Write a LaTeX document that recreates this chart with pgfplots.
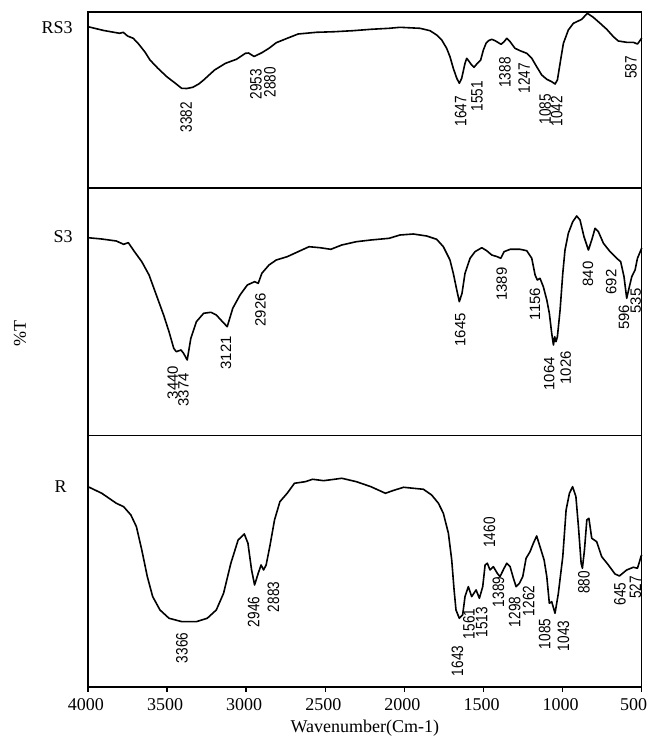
\documentclass[border=0pt]{standalone}
\usepackage{pgfplots}
\pgfplotsset{compat=1.18}
\usepackage{fontspec}
\setmainfont{Liberation Serif}
\newfontfamily\labs{Liberation Sans}
\newfontfamily\labn[FakeStretch=0.82]{Liberation Sans}
\newcommand{\pkS}{\labs\fontsize{11.2}{12}\selectfont}
\newcommand{\pkN}{\labn\fontsize{12.4}{13}\selectfont}
\newcommand{\bigtxt}{\fontsize{13.5}{15}\selectfont}

\pgfplotsset{
  panel/.style={
    scale only axis, width=415.3pt,
    xmin=500, xmax=4000, x dir=reverse, y dir=reverse,
    axis line style={line width=1.1pt},
    ytick=\empty, clip=false,
  },
  spec/.style={black, line width=1.2pt, no marks, line join=round},
}

\begin{document}
\begin{tikzpicture}
\path[use as bounding box] (0pt,0pt) rectangle (487.5pt,-552pt);

% ---------- RS3 ----------
\begin{axis}[panel, at={(66pt,-9pt)}, anchor=north west, height=132pt,
  ymin=12, ymax=188, xtick=\empty]
\addplot[spec] coordinates {
(4000,26.7)(3900,30.5)(3800,33.3)(3777,32.3)(3750,36)(3714,38.3)(3680,44)(3640,52)(3608,60)(3560,68)
(3502,76.7)(3450,83)(3408,88.3)(3376,88.5)(3338,87.3)(3300,84)(3269,80)(3200,70)(3131,63.3)(3062,59.3)
(3005,53.3)(2985,53)(2950,56.5)(2901,52.7)(2856,48.3)(2810,42.7)(2741,38.3)(2672,34)(2557,32.3)(2442,31.7)
(2327,30.7)(2212,29.3)(2097,28.3)(2028,27.3)(1901,28.3)(1838,30.7)(1796,35)(1764,40)(1733,48.3)(1712,56.7)
(1691,68.3)(1669,78.3)(1653,83.3)(1638,78.3)(1617,63.3)(1606,58.3)(1590,61.7)(1575,65)(1560,67.3)(1539,63.3)
(1518,60)(1501,50)(1484,43.3)(1469,40.7)(1448,39.3)(1427,40.7)(1389,44.3)(1370,41.7)(1353,38.3)(1332,41.7)
(1301,48.3)(1269,50.7)(1227,53.3)(1195,58.3)(1164,66.7)(1132,75)(1100,79.3)(1069,81.7)(1048,84)(1033,80)
(1016,63.3)(995,43.3)(964,30)(932,23.3)(879,19.3)(844,13.3)(806,17.3)(763,23.3)(721,29.3)(679,36.7)
(648,41)(595,42.3)(553,42.3)(527,44)(505,39.3)(500,38)
};
\begin{scope}[every node/.style={rotate=90, inner sep=0pt, font=\pkN}]
\node at (axis cs:3380,117) {3382};
\node at (axis cs:2938,84) {2953};
\node at (axis cs:2850,82) {2880};
\node at (axis cs:1644,111) {1647};
\node at (axis cs:1541,96) {1551};
\node at (axis cs:1364,72.5) {1388};
\node at (axis cs:1244,78) {1247};
\node at (axis cs:1111,109) {1085};
\node at (axis cs:1037,111) {1042};
\node at (axis cs:569,67.5) {587};
\end{scope}
\end{axis}

% ---------- S3 ----------
\begin{axis}[panel, at={(66pt,-141pt)}, anchor=north west, height=185.6pt,
  ymin=188, ymax=435.5, xtick=\empty]
\addplot[spec] coordinates {
(4000,237.7)(3913,239)(3821,241)(3775,244.3)(3745,242.7)(3706,251.7)(3660,261.7)(3614,275)(3568,295)(3522,315)
(3488,331.7)(3458,348.3)(3442,351.7)(3412,350)(3396,353.3)(3373,360)(3350,338.3)(3315,321.7)(3269,313.3)(3223,312.3)
(3189,315)(3150,321.7)(3120,326.7)(3085,308.3)(3039,295)(2993,285)(2947,281.7)(2924,283.3)(2901,273.3)(2856,265)
(2810,260)(2741,256.7)(2672,251.7)(2603,246.7)(2534,247.7)(2465,249.3)(2396,245)(2304,241.7)(2212,240)(2097,238.3)
(2028,235)(1944,234)(1859,236)(1796,239.3)(1754,246.7)(1712,260)(1691,273.3)(1669,290)(1653,301.7)(1636,293.3)
(1617,273.3)(1585,258.3)(1554,251.7)(1511,247.7)(1480,250.7)(1448,255)(1413,256.7)(1391,258.3)(1370,251.7)(1332,249.3)
(1269,249.3)(1227,250.7)(1195,258.3)(1174,275)(1160,280)(1143,278.3)(1122,286.7)(1100,300)(1084,313.3)(1069,333.3)
(1058,345)(1050,336.7)(1042,341.7)(1033,336.7)(1016,310)(999,273.3)(985,250)(964,233.3)(936,221.7)(911,216)
(890,220)(865,236.7)(837,250)(816,240)(795,228.3)(774,231.7)(742,243.3)(700,251.7)(658,258.3)(633,261.7)
(612,276.7)(595,298.3)(578,286.7)(563,276.7)(542,270)(527,258.3)(505,250)(500,248)
};
\begin{scope}[every node/.style={rotate=90, inner sep=0pt, font=\pkS}]
\node at (axis cs:3465,382.5) {3440};
\node at (axis cs:3396,390) {3374};
\node at (axis cs:3128,353) {3121};
\node at (axis cs:2910,310) {2926};
\node at (axis cs:1647,330) {1645};
\node at (axis cs:1385,284) {1389};
\node at (axis cs:1174,304) {1156};
\node at (axis cs:1084,374) {1064};
\node at (axis cs:980,368) {1026};
\node at (axis cs:839,274) {840};
\node at (axis cs:692,282) {692};
\node at (axis cs:612,317.5) {596};
\node at (axis cs:538,301) {535};
\end{scope}
\end{axis}

% ---------- R ----------
\begin{axis}[panel, at={(66pt,-326.6pt)}, anchor=north west, height=188.6pt,
  ymin=435.5, ymax=687,
  xtick={500,1000,1500,2000,2500,3000,3500,4000},
  xticklabels={{\hbox{500\kern 9pt}},1000,1500,2000,2500,3000,3500,4000},
  xtick pos=bottom, tick align=outside, major tick length=3.75pt,
  tick style={line width=1.1pt, black},
  xticklabel style={font=\bigtxt, yshift=-1.5pt, xshift=-1.5pt},
  xlabel={Wavenumber(Cm-1)},
  xlabel style={font=\bigtxt, yshift=0pt}]
\addplot[spec] coordinates {
(4000,486.7)(3913,493.3)(3821,503.3)(3775,506.7)(3729,515)(3694,526.7)(3660,550)(3625,576.7)(3591,596.7)(3545,610)
(3488,618.3)(3407,621.7)(3315,621.7)(3246,618.3)(3189,610)(3143,593.3)(3097,563.3)(3051,540)(3012,534)(2989,543.3)
(2966,570)(2947,585)(2924,573.3)(2906,565)(2890,570)(2874,565)(2851,546.7)(2821,520)(2787,501.7)(2741,493.3)
(2695,483.3)(2626,481.7)(2580,479.3)(2511,480.7)(2442,479.3)(2396,478.3)(2304,481.7)(2212,486.7)(2120,493.3)(2074,490.7)
(2005,487.3)(1944,488.3)(1880,489.3)(1828,495)(1785,503.3)(1754,513.3)(1722,533.3)(1701,560)(1686,590)(1674,610)
(1653,618.3)(1632,615)(1617,596.7)(1596,586.7)(1575,596.7)(1547,590)(1526,598.3)(1505,586.7)(1490,565)(1476,563.3)
(1459,570)(1438,566.7)(1413,573.3)(1396,576.7)(1370,568.3)(1353,563.3)(1332,566.7)(1311,578.3)(1294,586.7)(1273,583.3)
(1252,576.7)(1231,558.3)(1206,551.7)(1185,543.3)(1164,536)(1143,546.7)(1117,560)(1100,576.7)(1084,603.3)(1069,601.7)
(1048,613.3)(1027,593.3)(999,556.7)(978,510)(957,493.3)(937,486.7)(916,496.7)(900,526.7)(883,563.3)(875,568.3)
(862,550)(847,520)(834,518.3)(816,538.3)(785,541.7)(753,556.7)(711,565)(669,574)(641,576)(595,570)
(553,567.3)(527,568.3)(514,561.7)(505,556.7)(500,555)
};
\begin{scope}[every node/.style={rotate=90, inner sep=0pt, font=\pkN}]
\node at (axis cs:3406,648) {3366};
\node at (axis cs:2952,612) {2946};
\node at (axis cs:2828,597) {2883};
\node at (axis cs:1463,532.5) {1460};
\node at (axis cs:1665,661) {1643};
\node at (axis cs:1592,624) {1561};
\node at (axis cs:1511,622.5) {1513};
\node at (axis cs:1406,592) {1389};
\node at (axis cs:1303,612) {1298};
\node at (axis cs:1214,601) {1262};
\node at (axis cs:1113,634) {1085};
\node at (axis cs:995,636) {1043};
\node at (axis cs:865,582.5) {880};
\node at (axis cs:637,594) {645};
\node at (axis cs:540,587.5) {527};
\end{scope}
\end{axis}

% panel names and y label
\node[anchor=east, inner sep=0pt, font=\bigtxt] at (54.75pt,-21pt) {RS3};
\node[anchor=east, inner sep=0pt, font=\bigtxt] at (54.75pt,-177.75pt) {S3};
\node[anchor=east, inner sep=0pt, font=\bigtxt] at (50.25pt,-365.25pt) {R};
\node[rotate=90, inner sep=0pt, font=\bigtxt] at (15pt,-249.75pt) {\%T};
\end{tikzpicture}
\end{document}
